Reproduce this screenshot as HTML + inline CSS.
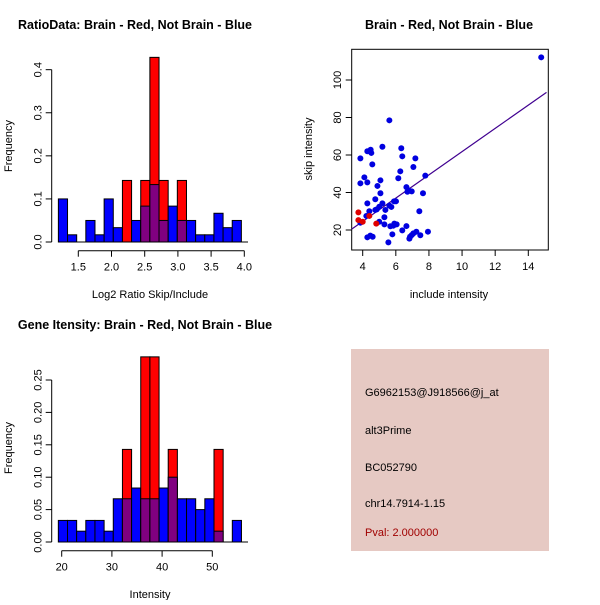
<!DOCTYPE html>
<html><head><meta charset="utf-8"><style>
body{margin:0;background:#fff}
svg text{font-family:"Liberation Sans",sans-serif;font-size:11px;fill:#000}
.t{font-weight:bold;font-size:12.5px}
</style></head><body>
<svg id="s" width="600" height="600" xmlns="http://www.w3.org/2000/svg">
<text class="t" x="135" y="29" text-anchor="middle">RatioData: Brain - Red, Not Brain - Blue</text>
<text class="t" x="449" y="29" text-anchor="middle">Brain - Red, Not Brain - Blue</text>
<text class="t" x="145" y="329" text-anchor="middle">Gene Itensity: Brain - Red, Not Brain - Blue</text>
<text x="150" y="298" text-anchor="middle">Log2 Ratio Skip/Include</text>
<text transform="translate(12,146) rotate(-90)" text-anchor="middle">Frequency</text>
<text x="150" y="598" text-anchor="middle">Intensity</text>
<text transform="translate(12,448) rotate(-90)" text-anchor="middle">Frequency</text>
<text x="449" y="298" text-anchor="middle">include intensity</text>
<text transform="translate(312,149) rotate(-90)" text-anchor="middle">skip intensity</text>
<g>
<rect x="351" y="349" width="198" height="202" fill="#e6c9c3"/>
<text x="365" y="396">G6962153@J918566@j_at</text>
<text x="365" y="434">alt3Prime</text>
<text x="365" y="471">BC052790</text>
<text x="365" y="507">chr14.7914-1.15</text>
<text x="365" y="536" fill="#a00000" style="fill:#a00000">Pval: 2.000000</text>
</g>
</svg>
<script>
const ratioStart=1.2, ratioWidth=0.1378;
const ratioBlue=[0.1,0.0167,0,0.05,0.0167,0.1,0.0333,0,0.05,0.0833,0.1333,0.05,0.0833,0.05,0.05,0.0167,0.0167,0.0667,0.0333,0.05];
const ratioRed=[0,0,0,0,0,0,0,0.1429,0,0.1429,0.4286,0.1429,0,0.1429,0,0,0,0,0,0];
const ratioXTicks=[1.5,2.0,2.5,3.0,3.5,4.0];
const ratioYTicks=[0.0,0.1,0.2,0.3,0.4];
const intStart=19.33, intWidth=1.824;
const intBlue=[0.0333,0.0333,0.0167,0.0333,0.0333,0.0167,0.0667,0.0667,0.0833,0.0667,0.0667,0.0833,0.1,0.0667,0.0667,0.05,0.0667,0.0167,0,0.0333];
const intRed=[0,0,0,0,0,0,0,0.1429,0,0.2857,0.2857,0,0.1429,0,0,0,0,0.1429,0,0];
const intXTicks=[20,30,40,50];
const intYTicks=["0.00","0.05","0.10","0.15","0.20","0.25"];
const scBlueX=[14.78,5.61,3.86,4.28,4.46,4.52,4.48,5.19,6.33,6.39,7.18,4.58,6.27,7.06,7.78,4.1,6.15,5.07,3.86,4.28,4.89,6.64,5.07,6.7,6.96,6.78,7.64,4.76,4.28,5.19,5.0,4.85,5.61,5.73,5.89,6.01,4.4,4.76,5.37,7.42,4.22,5.31,5.0,3.86,5.31,5.91,6.05,5.85,5.67,6.64,6.39,7.24,7.06,6.96,6.86,7.94,7.48,5.79,4.28,4.46,4.6,6.82,5.55];
const scBlueY=[112.1,78.5,58.2,62,62.3,61.1,62.8,64.4,63.6,59.3,58.2,55,51.3,53.6,49,48.1,47.6,46.5,44.9,45.4,43.5,42.9,39.6,40.4,40.6,41,39.6,36.4,34.2,34.2,32.4,31,33,32.3,35.3,35.3,30,30.7,30.7,30,27.5,26.8,24.4,23.9,23,23.4,23,22.3,22,22.1,19.8,19.1,18.2,17.3,16.4,19.1,17.2,17.7,16.1,17,16.4,15.4,13.4];
const scRedX=[3.74,3.74,4.0,4.4,4.82];
const scRedY=[29.4,25.3,24.4,27.5,23.4];
const fitSlope=6.2, fitIntercept=-0.2;
const scXTicks=[4,6,8,10,12,14];
const scYTicks=[20,40,60,80,100];

const S=document.getElementById('s'),NS='http://www.w3.org/2000/svg';
function mk(t,a,p){const e=document.createElementNS(NS,t);for(const k in a)e.setAttribute(k,a[k]);(p||S).appendChild(e);return e;}
function line(x1,y1,x2,y2,g){return mk('line',{x1,y1,x2,y2,stroke:'#000','stroke-width':1},g);}

function hist(name,start,w,blue,red,xs,ys,xt,yt,xAxisY,baseL,baseR,yTop){
  const g=mk('g',{});
  
  
  for(let i=0;i<blue.length;i++){
    const x0=xs(start+i*w),x1=xs(start+(i+1)*w);
    const b=blue[i],r=red[i],lo=Math.min(b,r);
    if(r>0){const e=mk('rect',{x:x0,y:ys(r),width:x1-x0,height:ys(0)-ys(r),fill:'#ff0000',stroke:'#000','stroke-width':1},g);
      
      }
    if(b>r){const e=mk('rect',{x:x0,y:ys(b),width:x1-x0,height:ys(0)-ys(b),fill:'#0000ff',stroke:'#000','stroke-width':1},g);
      
      }
    if(lo>0){const e=mk('rect',{x:x0,y:ys(lo),width:x1-x0,height:ys(0)-ys(lo),fill:'#800080',stroke:'#000','stroke-width':1},g);
      
      }
  }
  line(baseL,ys(0),baseR,ys(0),g);
  const ax=51.7;
  line(ax,ys(+yt[0]),ax,ys(+yt[yt.length-1]),g);
  yt.forEach(v=>{line(ax-6,ys(+v),ax,ys(+v),g);
    const t=mk('text',{transform:`translate(${ax-10},${ys(+v)}) rotate(-90)`,'text-anchor':'middle'},g);t.textContent=typeof v==='string'?v:v.toFixed(1);
    
    });
  line(xs(xt[0]),xAxisY,xs(xt[xt.length-1]),xAxisY,g);
  xt.forEach(v=>{line(xs(v),xAxisY,xs(v),xAxisY+6,g);
    const t=mk('text',{x:xs(v),y:xAxisY+20,'text-anchor':'middle'},g);t.textContent=name.startsWith('ratio')?v.toFixed(1):v;
    
    });
}
hist('ratio-histogram',ratioStart,ratioWidth,ratioBlue,ratioRed,
  v=>78.3+(v-1.5)*66.4, v=>242-v*430.8, ratioXTicks, ratioYTicks, 250.7,58,248);
hist('intensity-histogram',intStart,intWidth,intBlue,intRed,
  v=>61.7+(v-20)*5.02, v=>542-v*648, intXTicks, intYTicks, 550.7,58,248);

// scatter
const sx=v=>362.7+(v-4)*16.56, sy=v=>230-(v-20)*1.875;
const sg=mk('g',{});


mk('rect',{x:351.7,y:49.3,width:196.6,height:200.7,fill:'none',stroke:'#000'},sg);
scXTicks.forEach(v=>{line(sx(v),250,sx(v),256,sg);const t=mk('text',{x:sx(v),y:270,'text-anchor':'middle'},sg);t.textContent=v;
  
  });
scYTicks.forEach(v=>{line(345.7,sy(v),351.7,sy(v),sg);const t=mk('text',{transform:`translate(341,${sy(v)}) rotate(-90)`,'text-anchor':'middle'},sg);t.textContent=v;
  
  });
const cp=mk('clipPath',{id:'cp'},sg);mk('rect',{x:351.7,y:49.3,width:196.6,height:200.7},cp);
const x0=3.3,x1=15.1;
const fl=mk('line',{x1:sx(x0),y1:sy(fitSlope*x0+fitIntercept),x2:sx(x1),y2:sy(fitSlope*x1+fitIntercept),stroke:'#400090','stroke-width':1.2,'clip-path':'url(#cp)'},sg);


scBlueX.forEach((x,i)=>{const c=mk('circle',{cx:sx(x),cy:sy(scBlueY[i]),r:3,fill:'#0000e0'},sg);
  
  });
scRedX.forEach((x,i)=>{const c=mk('circle',{cx:sx(x),cy:sy(scRedY[i]),r:3,fill:'#e00000'},sg);
  
  });
</script>
</body></html>
